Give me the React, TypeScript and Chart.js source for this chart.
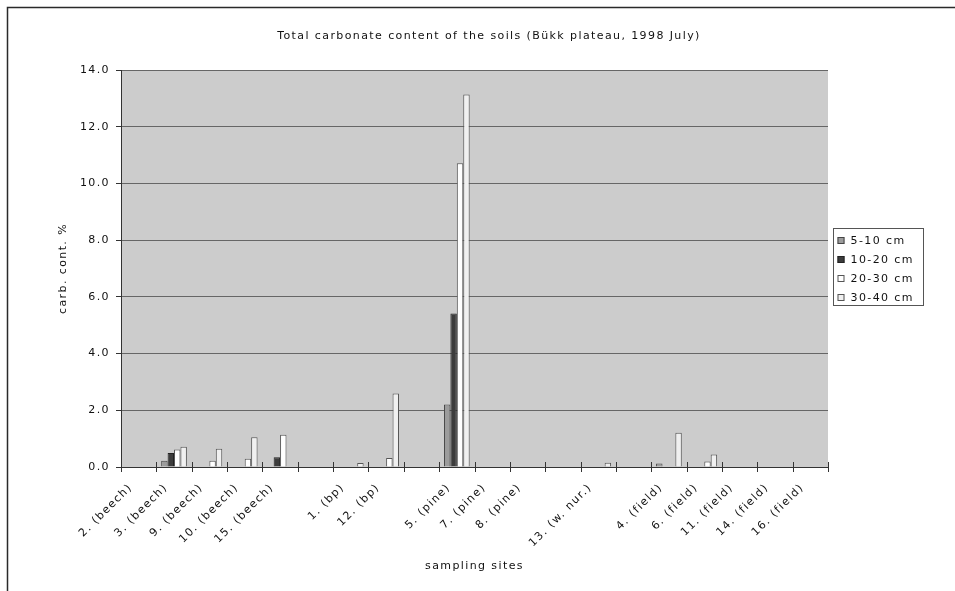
import React, { useEffect, useRef } from 'react';
import { Chart, registerables } from 'chart.js';

Chart.register(...registerables);

// ---- data -------------------------------------------------------------
const CHART_TITLE = 'Total carbonate content of the soils (Bükk plateau, 1998 July)';
const X_TITLE = 'sampling sites';
const Y_TITLE = 'carb. cont. %';

// Sampling sites grouped by vegetation; empty labels separate the groups.
const sites = [
  '2. (beech)', '3. (beech)', '9. (beech)', '10. (beech)', '15. (beech)',
  '',
  '1. (bp)', '12. (bp)',
  '',
  '5. (pine)', '7. (pine)', '8. (pine)',
  '',
  '13. (w. nur.)',
  '',
  '4. (field)', '6. (field)', '11. (field)', '14. (field)', '16. (field)',
];

const depthLabels = ['5-10 cm', '10-20 cm', '20-30 cm', '30-40 cm'];

// carbonate content (%) per depth layer, null where nothing was measured
const depth5to10 = [null, 0.22, null, null, null, null, null, null, null, 2.2, null, null, null, null, null, 0.12, null, null, null, null];
const depth10to20 = [null, 0.49, null, null, 0.34, null, null, null, null, 5.41, null, null, null, null, null, null, null, null, null, null];
const depth20to30 = [null, 0.62, 0.22, 0.29, 1.14, null, null, 0.32, null, 10.71, null, null, null, null, null, null, 0.19, null, null, null];
const depth30to40 = [null, 0.71, 0.64, 1.05, null, null, 0.14, 2.59, null, 13.14, null, null, null, 0.15, null, 1.21, 0.44, null, null, null];

const Y_MIN = 0;
const Y_MAX = 14;
const Y_STEP = 2;

// ---- styling ----------------------------------------------------------
const FONT = '"DejaVu Sans", Verdana, sans-serif';
const FONT_SIZE = 11;
const TEXT = '#111111';
const SPACING = '1.4px';
const FILLS = ['#9c9c9c', '#3c3c3c', '#ffffff', '#f0f0f0'];
const EDGES = ['#444444', '#222222', '#555555', '#555555'];

const W = 955;
const H = 591;
// the chart object frame is a little wider than the visible window
const FRAME = { left: 7, top: 7, right: 971, bottom: 640 };

const decorations = {
  id: 'decorations',
  beforeUpdate(chart: any) {
    chart.ctx.letterSpacing = SPACING;
  },
  beforeDraw(chart: any) {
    const { ctx, chartArea } = chart;
    ctx.save();
    ctx.fillStyle = '#ffffff';
    ctx.fillRect(0, 0, chart.width, chart.height);
    ctx.strokeStyle = '#2a2a2a';
    ctx.lineWidth = 1.5;
    ctx.strokeRect(FRAME.left + 0.5, FRAME.top + 0.5, FRAME.right - FRAME.left, FRAME.bottom - FRAME.top);
    ctx.fillStyle = '#cccccc';
    ctx.fillRect(chartArea.left, chartArea.top, chartArea.right - chartArea.left, chartArea.bottom - chartArea.top);
    ctx.restore();
    ctx.letterSpacing = SPACING;
  },
  afterDraw(chart: any) {
    const { ctx, chartArea } = chart;
    const xs = chart.scales.x;
    ctx.save();
    ctx.letterSpacing = SPACING;

    // category separators crossing the x axis
    const step = xs.getPixelForValue(1) - xs.getPixelForValue(0);
    ctx.strokeStyle = '#333333';
    ctx.lineWidth = 1;
    ctx.beginPath();
    for (let i = 0; i <= sites.length; i++) {
      const x = Math.round(xs.getPixelForValue(i) - step / 2) + 0.5;
      ctx.moveTo(x, chartArea.bottom - 5);
      ctx.lineTo(x, chartArea.bottom + 5);
    }
    ctx.stroke();

    // title
    ctx.fillStyle = TEXT;
    ctx.font = `${FONT_SIZE}px ${FONT}`;
    ctx.textAlign = 'center';
    ctx.textBaseline = 'middle';
    ctx.fillText(CHART_TITLE, (FRAME.left + FRAME.right) / 2, 36);

    // legend
    const boxW = 90;
    const boxH = 77;
    const bx = chartArea.right + 5.5;
    const by = Math.round((chartArea.top + chartArea.bottom) / 2 - boxH / 2 - 2) + 0.5;
    ctx.fillStyle = '#ffffff';
    ctx.fillRect(bx, by, boxW, boxH);
    ctx.strokeStyle = '#555555';
    ctx.strokeRect(bx, by, boxW, boxH);
    const rowH = 19;
    ctx.textAlign = 'left';
    depthLabels.forEach((label, i) => {
      const cy = by + 12 + i * rowH;
      ctx.fillStyle = FILLS[i];
      ctx.fillRect(bx + 4, cy - 3.5, 7, 7);
      ctx.strokeStyle = EDGES[i];
      ctx.strokeRect(bx + 4.5, cy - 3, 6, 6);
      ctx.fillStyle = TEXT;
      ctx.fillText(label, bx + 17, cy + 0.5);
    });
    ctx.restore();
  },
};

export default function App() {
  const ref = useRef<HTMLCanvasElement>(null);

  useEffect(() => {
    document.body.style.margin = '0';
    const series = [depth5to10, depth10to20, depth20to30, depth30to40];
    const chart = new Chart(ref.current as HTMLCanvasElement, {
      type: 'bar',
      data: {
        labels: sites,
        datasets: series.map((values, i) => ({
          label: depthLabels[i],
          data: values,
          backgroundColor: FILLS[i],
          borderColor: EDGES[i],
          borderWidth: 1,
          categoryPercentage: 4 / 5.5,
          barPercentage: 1,
        })),
      },
      options: {
        responsive: false,
        animation: false,
        events: [],
        layout: { padding: { left: 0, right: W - 828, top: 70, bottom: 0 } },
        plugins: {
          legend: { display: false },
          title: { display: false },
          tooltip: { enabled: false },
        },
        scales: {
          x: {
            grid: { display: false, offset: true },
            border: { display: true, color: '#333333', width: 1 },
            ticks: {
              autoSkip: false,
              minRotation: 45,
              maxRotation: 45,
              padding: 6,
              labelOffset: -8,
              color: TEXT,
              font: { family: FONT, size: FONT_SIZE },
            },
            title: {
              display: true,
              text: X_TITLE,
              color: TEXT,
              font: { family: FONT, size: FONT_SIZE },
              padding: { top: 0, bottom: 18 },
            },
            afterFit(scale: any) {
              scale.height = H - 467;
            },
          },
          y: {
            min: Y_MIN,
            max: Y_MAX,
            ticks: {
              stepSize: Y_STEP,
              padding: 6,
              color: TEXT,
              font: { family: FONT, size: FONT_SIZE },
              callback: (v: any) => Number(v).toFixed(1),
            },
            grid: {
              color: '#666666',
              lineWidth: 1,
              tickLength: 5,
              tickColor: '#333333',
            },
            border: { display: true, color: '#333333', width: 1 },
            title: {
              display: true,
              text: Y_TITLE,
              color: TEXT,
              font: { family: FONT, size: FONT_SIZE },
              padding: { top: 57, bottom: 0 },
            },
            afterFit(scale: any) {
              scale.width = 121;
            },
          },
        },
      },
      plugins: [decorations],
    } as any);
    return () => chart.destroy();
  }, []);

  return (
    <div style={{ position: 'relative', width: W, height: H }}>
      <canvas ref={ref} width={W} height={H} style={{ display: 'block' }} />
    </div>
  );
}
